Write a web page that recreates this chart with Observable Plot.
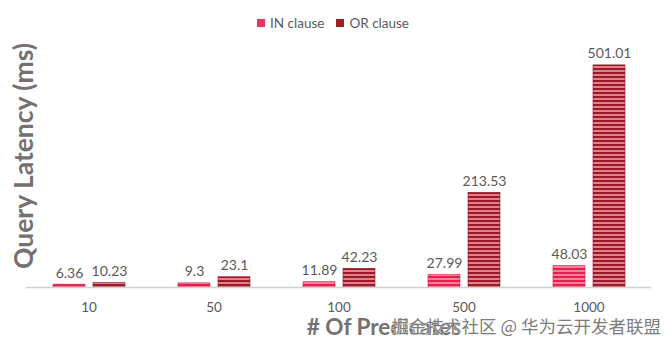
<!DOCTYPE html>
<html>
<head>
<meta charset="utf-8">
<script src="https://cdn.jsdelivr.net/npm/d3@7"></script>
<script src="https://cdn.jsdelivr.net/npm/@observablehq/plot@0.6"></script>
<style>
  html, body { margin: 0; padding: 0; background: #fff; }
  #wrap { position: relative; width: 672px; height: 347px; overflow: hidden; font-family: Lato, "Open Sans", sans-serif; }
  #legend { position: absolute; top: 14px; left: 0; width: 672px; text-align: center; font-size: 13.5px; color: #595959; padding-right: 6px; box-sizing: border-box; }
  #legend span.item { display: inline-flex; align-items: center; margin: 0 6px; }
  #legend span.sw { display: inline-block; width: 8px; height: 8px; margin-right: 5px; }
</style>
</head>
<body>
<svg width="0" height="0" style="position:absolute">
  <defs>
    <pattern id="pIN" patternUnits="userSpaceOnUse" width="4" height="4">
      <rect width="4" height="4" fill="#f5829b"></rect>
      <rect width="4" height="2" fill="#e61f4e"></rect>
    </pattern>
    <pattern id="pOR" patternUnits="userSpaceOnUse" width="4" height="4">
      <rect width="4" height="4" fill="#e0808b"></rect>
      <rect width="4" height="2" fill="#9a1a29"></rect>
    </pattern>
  </defs>
</svg>
<div id="wrap">
  <div id="legend"></div>
  <div id="chart"></div>
</div>
<script>
const predicates = ["10", "50", "100", "500", "1000"];
const series = ["IN clause", "OR clause"];
const inClause = [6.36, 9.3, 11.89, 27.99, 48.03];
const orClause = [10.23, 23.1, 42.23, 213.53, 501.01];
const yTitle = "Query Latency (ms)";
const xTitle = "# Of Predicates";
const watermark = "掘金技术社区 @ 华为云开发者联盟";

const swatch = {"IN clause": "#e8365d", "OR clause": "#9e2027"};
const fills = ["url(#pIN)", "url(#pOR)"];
const strokes = ["#d81a45", "#8a1422"];

const data = [];
predicates.forEach((p, i) => {
  data.push({pred: p, clause: series[0], value: inClause[i]});
  data.push({pred: p, clause: series[1], value: orClause[i]});
});

const legend = document.getElementById("legend");
series.forEach(s => {
  const it = document.createElement("span");
  it.className = "item";
  it.innerHTML = `<span class="sw" style="background:${swatch[s]}"></span>${s}`;
  legend.appendChild(it);
});

const chart = Plot.plot({
  width: 672,
  height: 347,
  marginLeft: 26,
  marginRight: 21,
  marginTop: 21,
  marginBottom: 60,
  style: {fontFamily: "Lato, 'Open Sans', sans-serif", fontSize: "13px", color: "#595959", background: "transparent"},
  fx: {domain: predicates, padding: 0, label: null},
  x: {domain: series, axis: null, paddingInner: 0.2, paddingOuter: 0.6625},
  y: {domain: [0, 600], axis: null},
  color: {domain: series, range: fills},
  marks: [
    Plot.barY(data, {fx: "pred", x: "clause", y: "value", fill: "clause", stroke: d => d.clause === series[0] ? strokes[0] : strokes[1], strokeWidth: 0.6}),
    Plot.ruleY([0], {stroke: "#d0d0d0", strokeWidth: 1.5}),
    Plot.text(data, {fx: "pred", x: "clause", y: "value", text: d => String(d.value), lineAnchor: "bottom", dy: -7, fill: "#595959", fontSize: 14}),
    Plot.axisFx({anchor: "bottom", tickSize: 0, tickPadding: 15, fontSize: 13.5, label: null, fill: "#595959"})
  ]
});
document.getElementById("chart").appendChild(chart);

const svg = d3.select(chart);
const yr = chart.scale("y").range;
const yc = (yr[0] + yr[1]) / 2;
svg.append("text")
  .attr("transform", `translate(33,${yc + 2}) rotate(-90)`)
  .attr("text-anchor", "middle")
  .attr("font-family", "Lato, sans-serif")
  .attr("font-weight", "bold")
  .attr("font-size", 26.5)
  .attr("fill", "#767171")
  .text(yTitle);
svg.append("text")
  .attr("x", 384)
  .attr("y", 335)
  .attr("text-anchor", "middle")
  .attr("font-family", "Lato, sans-serif")
  .attr("font-weight", "bold")
  .attr("font-size", 22.5)
  .attr("fill", "#767171")
  .text(xTitle);
svg.append("text")
  .attr("x", 661)
  .attr("y", 333)
  .attr("text-anchor", "end")
  .attr("font-family", "'Noto Sans CJK SC', sans-serif")
  .attr("font-size", 17.5)
  .attr("fill", "#7d7d7d")
  .attr("stroke", "#ffffff")
  .attr("stroke-width", 0.6)
  .attr("paint-order", "stroke")
  .text(watermark);
</script>
</body>
</html>
